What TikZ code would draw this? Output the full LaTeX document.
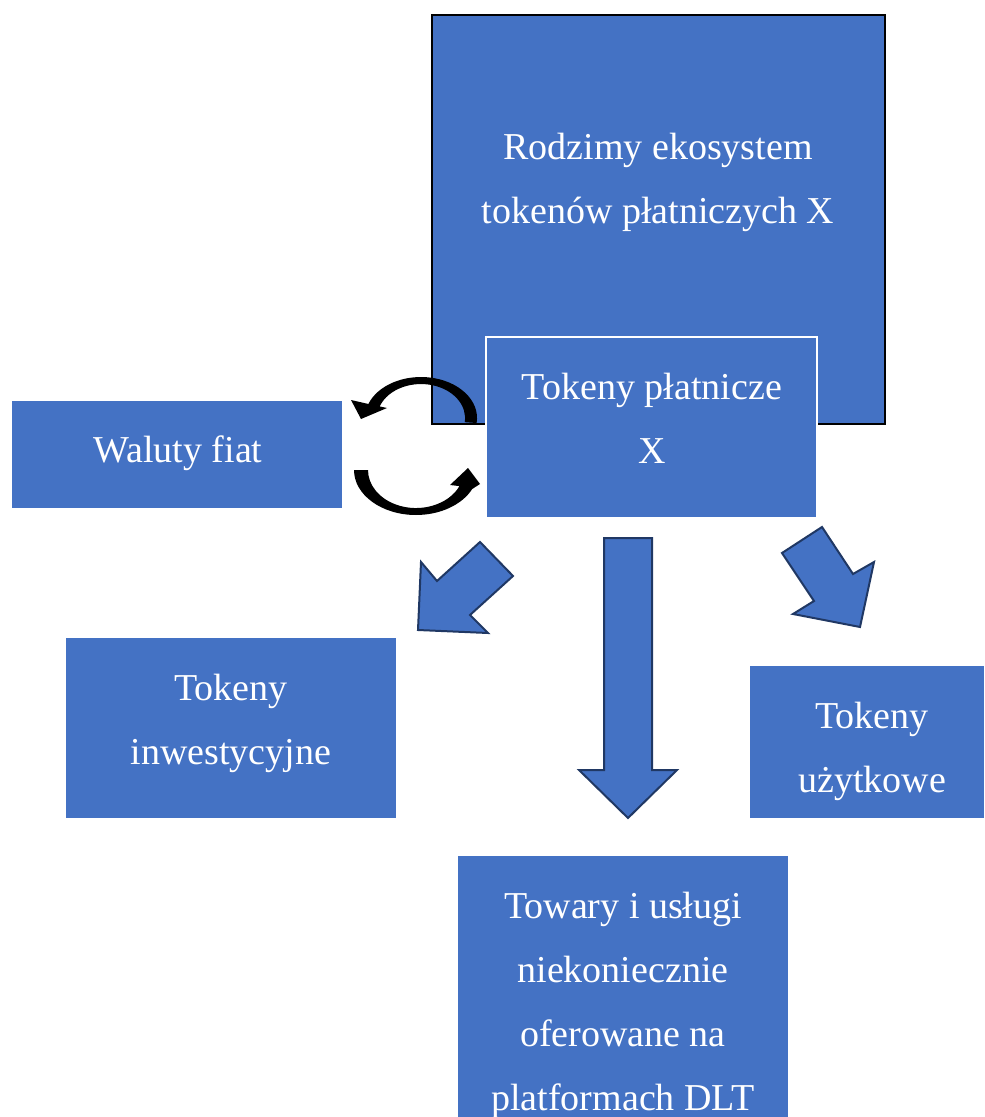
\documentclass[tikz,border=0pt]{standalone}
\usepackage{fontspec}
\setmainfont{Liberation Serif}
\definecolor{accent}{HTML}{4472C4}
\definecolor{outline}{HTML}{203864}
\begin{document}
\begin{tikzpicture}[x=0.5pt,y=-0.5pt,
  box/.style={fill=accent, draw=none, inner sep=0pt, outer sep=0pt},
  label/.style={text=white, font=\fontsize{19pt}{32pt}\selectfont, align=center, inner sep=0pt},
  blockarrow/.style={fill=accent, draw=outline, line width=1pt, line join=miter},
  cyclearrow/.style={fill=black, draw=none}]
\useasboundingbox (0,0) rectangle (984,1117);

% boxes
\node[box, draw=black, line width=0.6pt, minimum width=226.5pt, minimum height=204.5pt] (eco) at (658.5,219.5) {};
\node[box, draw=white, line width=0.6pt, minimum width=165.5pt, minimum height=90.5pt] (pay) at (651.5,427.5) {};
\node[box, minimum width=165pt, minimum height=53.5pt] (fiat) at (177,454.5) {};
\node[box, minimum width=165pt, minimum height=90pt] (inv) at (231,728) {};
\node[box, minimum width=117pt, minimum height=76pt] (util) at (867,742) {};
\node[box, minimum width=165pt, minimum height=142pt] (goods) at (623,998) {};

% texts
\node[label] (ecotext) at (658,182) {Rodzimy ekosystem\\tokenów płatniczych X};
\node[label] (paytext) at (652,418) {Tokeny płatnicze\\X};
\node[label] (fiattext) at (178,453) {Waluty fiat};
\node[label] (invtext) at (231,723) {Tokeny\\inwestycyjne};
\node[label] (utiltext) at (872,751) {Tokeny\\użytkowe};
\node[label] (goodstext) at (623,1005) {Towary i usługi\\niekoniecznie\\oferowane na\\platformach DLT};

% exchange cycle between fiat and payment tokens
\fill[cyclearrow] (476.6,423)
  arc[start angle=-7, end angle=160, x radius=28pt, y radius=20.5pt]
  -- (351,400) -- (361,419) -- (387,408) -- (379.7,406.4)
  arc[start angle=160, end angle=-7, x radius=22pt, y radius=17pt] -- cycle;
\fill[cyclearrow] (354,470)
  arc[start angle=180, end angle=335, x radius=31pt, y radius=22.5pt]
  -- (480,484) -- (468,468) -- (450,485) -- (459.5,486.1)
  arc[start angle=335, end angle=180, x radius=24pt, y radius=19pt] -- cycle;

% block arrows
\draw[blockarrow] (480,542) -- (513,576) -- (470,615) -- (488,633) -- (418,630) -- (421,562) -- (437,581) -- cycle;
\draw[blockarrow] (604,538) -- (652,538) -- (652,770) -- (677,770) -- (628,818) -- (579,770) -- (604,770) -- cycle;
\draw[blockarrow] (782,553) -- (822,527) -- (853,574) -- (874,562) -- (860,627) -- (793,614) -- (814,601) -- cycle;
\end{tikzpicture}
\end{document}
